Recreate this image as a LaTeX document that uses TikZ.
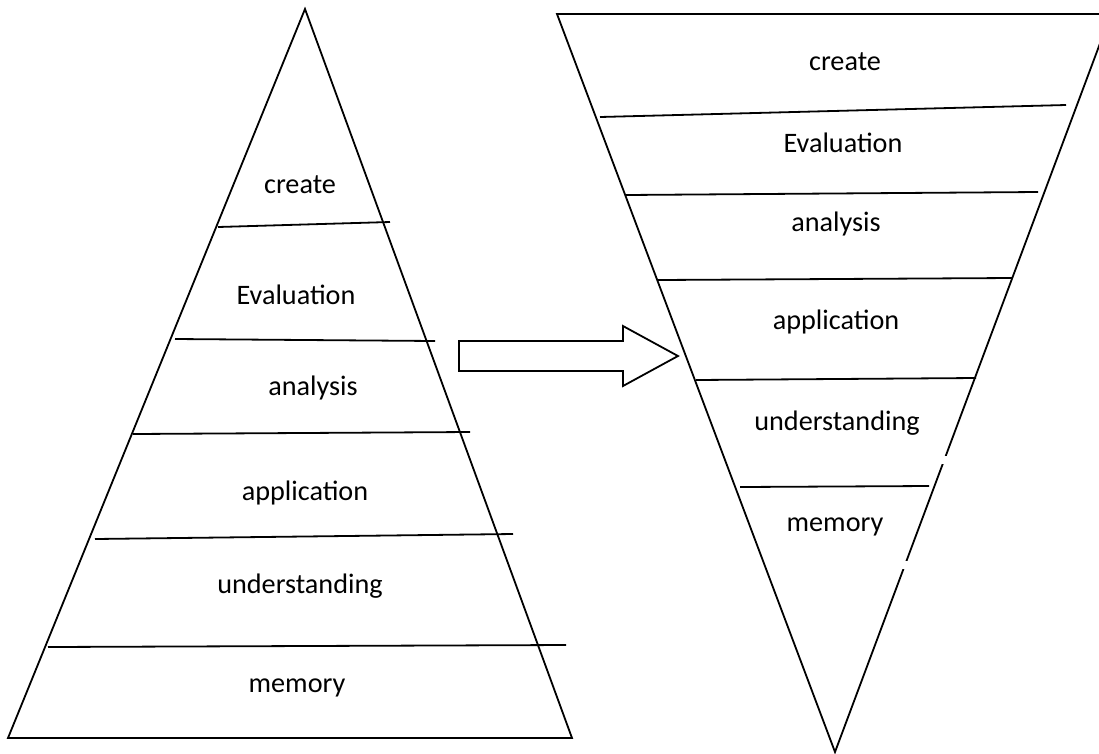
\documentclass[tikz,border=0pt]{standalone}
\usepackage{fontspec}
\setmainfont{Carlito}
\begin{document}
\begin{tikzpicture}[x=1pt,y=-1pt,
  edge/.style={line width=1.8pt,line cap=round,line join=miter},
  tier/.style={line width=1.8pt},
  lbl/.style={inner sep=0pt,font=\fontsize{28.2}{33}\selectfont},
  gapmask/.style={fill=white,draw=none}]
\useasboundingbox (0,0) rectangle (1099,753);
\clip (0,0) rectangle (1099,753);

% upright pyramid
\draw[edge] (305,9) -- (8,738) -- (572,738) -- cycle;
\draw[tier] (218,227) -- (390,222);
\draw[tier] (175,339) -- (435,341);
\draw[tier] (133,434) -- (470,432);
\draw[tier] (95,539) -- (513,534);
\draw[tier] (48,647) -- (566,645);

\node[lbl] (lcreate) at (300,185) {create};
\node[lbl] (leval)   at (296,295) {Evaluation};
\node[lbl] (lanal)   at (313,388) {analysis};
\node[lbl] (lappl)   at (305,493) {application};
\node[lbl] (lunder)  at (300,586) {understanding};
\node[lbl] (lmem)    at (297,688) {memory};

% block arrow between the two pyramids
\draw[line width=1.8pt,line join=miter]
  (459,341) -- (623,341) -- (623,326) -- (678,356) -- (623,386)
  -- (623,371) -- (459,371) -- cycle;

% inverted pyramid
\draw[edge] (1111,14) -- (557,14) -- (835,752) -- (1111,14);
\fill[gapmask] (935,456) rectangle (950,464);
\fill[gapmask] (898,561) rectangle (914,569);
\draw[tier] (600,117) -- (1066,105);
\draw[tier] (626,195) -- (1038,192);
\draw[tier] (658,280) -- (1012,278);
\draw[tier] (696,380) -- (976,378);
\draw[tier] (740,487) -- (929,486);

\node[lbl] (rcreate) at (845,62)  {create};
\node[lbl] (reval)   at (843,143) {Evaluation};
\node[lbl] (ranal)   at (836,224) {analysis};
\node[lbl] (rappl)   at (836,322) {application};
\node[lbl] (runder)  at (837,423) {understanding};
\node[lbl] (rmem)    at (835,527) {memory};
\end{tikzpicture}
\end{document}
